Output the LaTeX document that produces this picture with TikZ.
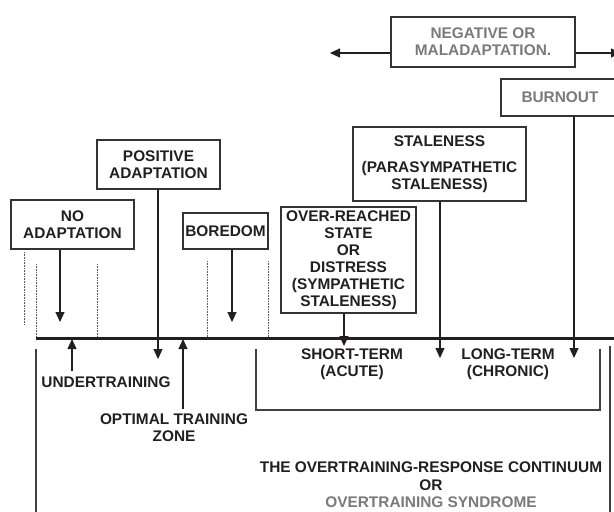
\documentclass[tikz,border=0pt]{standalone}
\usepackage{fontspec}
\setmainfont{Liberation Sans}
\usetikzlibrary{arrows.meta,calc}
\definecolor{ink}{HTML}{231F20}
\definecolor{grayink}{HTML}{7A7A7D}
\definecolor{boxline}{HTML}{333333}
\definecolor{railc}{HTML}{404040}
\tikzset{
  txt/.style={font=\bfseries\fontsize{15.4}{17}\selectfont},
  box/.style={draw=boxline, line width=1.1pt, inner sep=0pt, align=center, text=ink, txt},
  lbl/.style={inner sep=0pt, align=center, text=ink, txt},
  arr/.style={draw=ink, line width=1.2pt, -{Triangle[width=9pt,length=10pt]}},
  mainline/.style={draw=ink, line width=3pt},
  dots/.style={draw=black!65, line width=1pt, dash pattern=on 0.8pt off 0.8pt},
  rail/.style={draw=railc, line width=1.2pt},
}
\begin{document}
\begin{tikzpicture}[x=1pt,y=-1pt]
\useasboundingbox (0,0) rectangle (614,512);

% boxes
\node[box, minimum width=184pt, minimum height=50pt, text=grayink] (neg) at (483,42) {NEGATIVE OR\\MALADAPTATION.};
\node[box, minimum width=118pt, minimum height=37pt, text=grayink] (burn) at (560,97.5) {BURNOUT};
\node[box, minimum width=173pt, minimum height=74pt] (stale) at (439.5,164) {STALENESS\\[9pt](PARASYMPATHETIC\\STALENESS)};
\node[box, minimum width=123pt, minimum height=49pt] (posad) at (158.5,164.5) {POSITIVE\\ADAPTATION};
\node[box, minimum width=123pt, minimum height=49pt] (noad) at (72.5,224.5) {NO\\ADAPTATION};
\node[box, minimum width=85pt, minimum height=36pt] (bore) at (225.5,231) {BOREDOM};
\node[box, minimum width=135pt, minimum height=106pt] (over) at (348.5,260) {OVER-REACHED\\STATE\\OR\\DISTRESS\\(SYMPATHETIC\\STALENESS)};

% labels
\node[lbl] (under) at (106,382) {UNDERTRAINING};
\node[lbl] (opt) at (174,428) {OPTIMAL TRAINING\\ZONE};
\node[lbl] (short) at (352,364) {SHORT-TERM\\(ACUTE)};
\node[lbl] (long) at (508,364) {LONG-TERM\\(CHRONIC)};
\node[lbl, font=\bfseries\fontsize{15.4}{17.5}\selectfont] (cont) at (431,485) {THE OVERTRAINING-RESPONSE CONTINUUM\\OR\\\textcolor{grayink}{OVERTRAINING SYNDROME}};

% dotted guides
\draw[dots] (24,252) -- (24,325);
\draw[dots] (36,264) -- (36,337);
\draw[dots] (97,264) -- (97,337);
\draw[dots] (207,261) -- (207,337);
\draw[dots] (268,261) -- (268,337);

% main axis
\coordinate (mL) at (36,338);
\coordinate (mR) at (614,338);
\draw[mainline] (mL) -- (mR);

% side rails and bracket
\coordinate (lrT) at (36,349);
\coordinate (lrB) at (36,512);
\coordinate (rrT) at (610,346);
\coordinate (rrB) at (610,512);
\draw[rail] (lrT) -- (lrB);
\draw[rail] (rrT) -- (rrB);
\coordinate (bA) at (256,349);
\coordinate (bB) at (256,410);
\coordinate (bC) at (600,410);
\coordinate (bD) at (600,349);
\draw[rail] (bA) -- (bB) -- (bC) -- (bD);

% negative arrows
\coordinate (nl) at (330,53);
\coordinate (nr) at (621,53);
\draw[arr] (neg.west |- nl) -- (nl);
\draw[arr] (neg.east |- nr) -- (nr);

% down arrows
\coordinate (t1) at (60,322);
\coordinate (t2) at (158,359);
\coordinate (t3) at (232,322);
\coordinate (t4) at (344,346);
\coordinate (t5) at (440,358);
\coordinate (t6) at (574,358);
\draw[arr] (noad.south -| t1) -- (t1);
\draw[arr] (posad.south -| t2) -- (t2);
\draw[arr] (bore.south -| t3) -- (t3);
\draw[arr] (over.south -| t4) -- (t4);
\draw[arr] (stale.south -| t5) -- (t5);
\draw[arr] (burn.south -| t6) -- (t6);

% up arrows
\coordinate (ut) at (72,339);
\coordinate (ot) at (183,339);
\draw[arr] ($(under.north -| ut)+(0,-5)$) -- (ut);
\draw[arr] ($(opt.north -| ot)+(0,-5)$) -- (ot);
\end{tikzpicture}
\end{document}
